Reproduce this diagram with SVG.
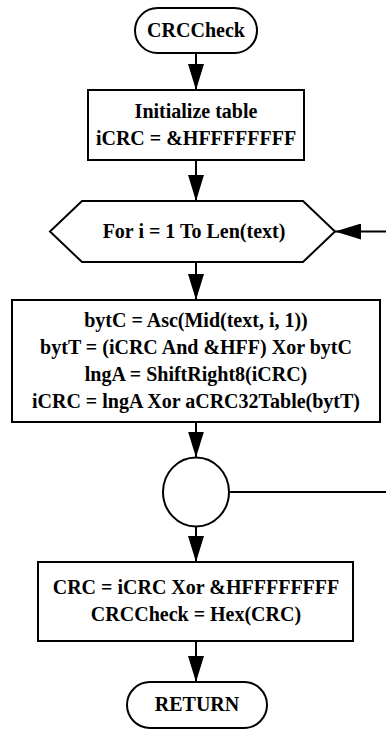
<svg xmlns="http://www.w3.org/2000/svg" width="386" height="731" viewBox="0 0 386 731">
  <style>
    .shape { fill: #ffffff; stroke: #000000; stroke-width: 2; }
    .conn { fill: none; stroke: #000000; stroke-width: 2; }
    .lbl { font-family: "Liberation Serif", "Times New Roman", serif; font-weight: bold; font-size: 20px; fill: #000000; text-anchor: middle; }
  </style>
  <defs>
    <marker id="arrow" viewBox="0 0 26 16" refX="26" refY="8" markerWidth="26" markerHeight="16" markerUnits="userSpaceOnUse" orient="auto">
      <path d="M0,0 L26,8 L0,16 Z" fill="#000000"/>
    </marker>
  </defs>
  <rect width="386" height="731" fill="#ffffff"/>

  <g id="connectors">
    <line class="conn" x1="196" y1="53" x2="196" y2="90" marker-end="url(#arrow)"/>
    <line class="conn" x1="196" y1="160" x2="196" y2="201" marker-end="url(#arrow)"/>
    <line class="conn" x1="196" y1="262" x2="196" y2="300" marker-end="url(#arrow)"/>
    <line class="conn" x1="196" y1="422" x2="196" y2="457.5" marker-end="url(#arrow)"/>
    <line class="conn" x1="196" y1="526.5" x2="196" y2="562" marker-end="url(#arrow)"/>
    <line class="conn" x1="196" y1="641" x2="196" y2="682" marker-end="url(#arrow)"/>
    <line class="conn" x1="229" y1="492" x2="386" y2="492"/>
    <line class="conn" x1="386" y1="231.5" x2="335" y2="231.5" marker-end="url(#arrow)"/>
  </g>

  <g id="start">
    <rect class="shape" x="135" y="8" width="122" height="45" rx="22.5" ry="22.5"/>
    <text class="lbl" x="196" y="37">CRCCheck</text>
  </g>

  <g id="init">
    <rect class="shape" x="88" y="90" width="216" height="70"/>
    <text class="lbl" x="196" y="118">Initialize table</text>
    <text class="lbl" x="196" y="145">iCRC = &amp;HFFFFFFFF</text>
  </g>

  <g id="loop">
    <polygon class="shape" points="50,231.5 82,201 303,201 335,231.5 303,262 82,262"/>
    <text class="lbl" x="194" y="238">For i = 1 To Len(text)</text>
  </g>

  <g id="body">
    <rect class="shape" x="12" y="300" width="368" height="122"/>
    <text class="lbl" x="196" y="327">bytC = Asc(Mid(text, i, 1))</text>
    <text class="lbl" x="196" y="354">bytT = (iCRC And &amp;HFF) Xor bytC</text>
    <text class="lbl" x="196" y="381">lngA = ShiftRight8(iCRC)</text>
    <text class="lbl" x="196" y="408">iCRC = lngA Xor aCRC32Table(bytT)</text>
  </g>

  <g id="join">
    <ellipse class="shape" cx="196" cy="492" rx="33" ry="34.5"/>
  </g>

  <g id="final">
    <rect class="shape" x="38" y="562" width="315" height="79"/>
    <text class="lbl" x="196" y="594">CRC = iCRC Xor &amp;HFFFFFFFF</text>
    <text class="lbl" x="196" y="621">CRCCheck = Hex(CRC)</text>
  </g>

  <g id="return">
    <rect class="shape" x="127" y="682" width="140" height="46" rx="23" ry="23"/>
    <text class="lbl" x="197" y="711">RETURN</text>
  </g>
</svg>
